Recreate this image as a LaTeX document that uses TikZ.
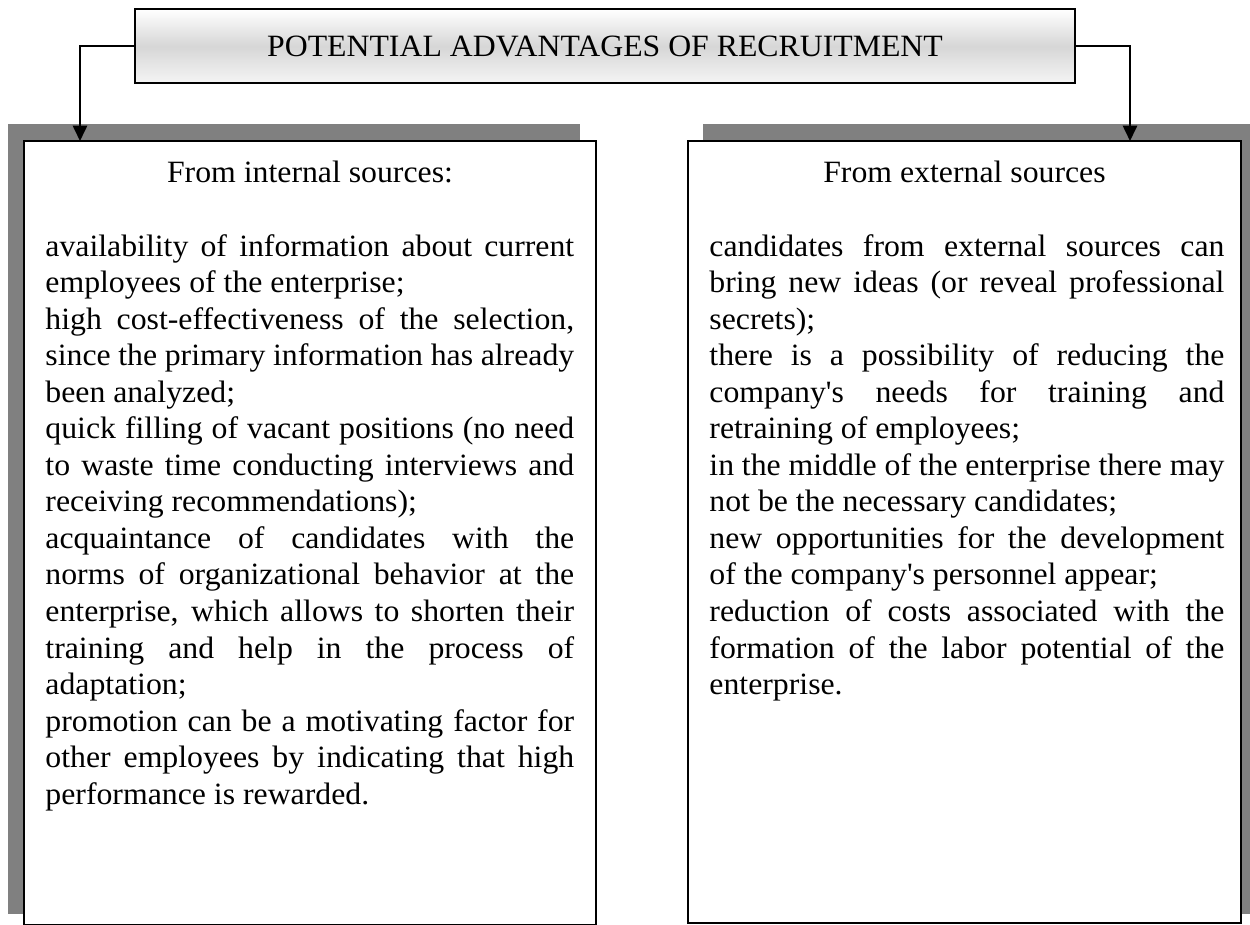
\documentclass[tikz,border=0pt]{standalone}
\usepackage{fontspec}
\setmainfont{Liberation Serif}[FakeStretch=1.025]
\usetikzlibrary{arrows.meta, fit}

\begin{document}
\begin{tikzpicture}[x=0.4516pt, y=-0.4516pt]

\tikzset{every node/.style = {font=\fontsize{14}{16.5}\selectfont}}
\tikzset{panel/.style = {draw, line width=0.9pt, fill=white, inner sep=0pt}}
\tikzset{headline/.style = {draw, line width=0.9pt, inner sep=0pt, top color=white, bottom color=black!4, middle color=black!16}}
\tikzset{itemtext/.style = {anchor=north west, inner sep=0pt, align=justify}}
\tikzset{edge/.style = {-{Triangle[length=7pt, width=6.5pt]}, line width=0.9pt}}
\useasboundingbox (0,0) rectangle (1250,924);
%shadows
\fill[black!50] (8,124) rectangle (580,914);
\fill[black!50] (703,124) rectangle (1256,914);
%boxes
\node[headline, fit={(135,9.3) (1075,83.3)}] (title) {};
\node at (title.center) (titletext) {POTENTIAL ADVANTAGES OF RECRUITMENT};
\node[panel, fit={(24,141) (596,925)}] (intbox) {};
\node[panel, fit={(688,141) (1241,922.5)}] (extbox) {};
%texts
\node[anchor=base] (inthead) at (310,182) {From internal sources:};
\node[anchor=base] (exthead) at (964.5,182) {From external sources};
\node[itemtext, text width=238.8pt] (intlist) at (45,230.1) {\hyphenpenalty=10000 \tolerance=9999 \strut
availability of information about current\linebreak employees of the enterprise;\par
high cost-effectiveness of the selection,\linebreak since the primary information has already\linebreak been analyzed;\par
quick filling of vacant positions (no need\linebreak to waste time conducting interviews and\linebreak receiving recommendations);\par
acquaintance of candidates with the\linebreak norms of organizational behavior at the\linebreak enterprise, which allows to shorten their\linebreak training and help in the process of\linebreak adaptation;\par
promotion can be a motivating factor for\linebreak other employees by indicating that high\linebreak performance is rewarded.};
\node[itemtext, text width=232.6pt] (extlist) at (709,230.1) {\hyphenpenalty=10000 \tolerance=9999 \strut
candidates from external sources can\linebreak bring new ideas (or reveal professional\linebreak secrets);\par
there is a possibility of reducing the\linebreak company\textquotesingle s needs for training and\linebreak retraining of employees;\par
in the middle of the enterprise there may\linebreak not be the necessary candidates;\par
new opportunities for the development\linebreak of the company\textquotesingle s personnel appear;\par
reduction of costs associated with the\linebreak formation of the labor potential of the\linebreak enterprise.};
%arrows
\coordinate (inttip) at (80,141);
\coordinate (exttip) at (1130,141);
\draw[edge] (title.west) -| (inttip);
\draw[edge] (title.east) -| (exttip);

\end{tikzpicture}
\end{document}
